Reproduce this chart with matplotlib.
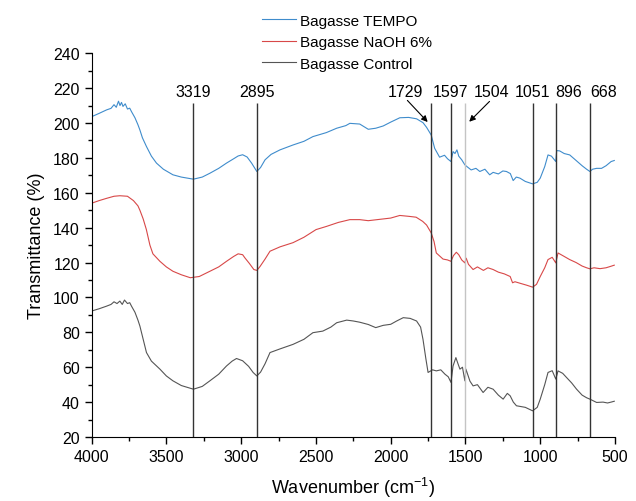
import matplotlib.pyplot as plt
from matplotlib.ticker import MultipleLocator

plt.rcParams['font.family'] = ['Liberation Sans', 'DejaVu Sans']
plt.rcParams['mathtext.default'] = 'regular'

# Spectra (wavenumber, transmittance)
tempo_x = [4000, 3950, 3900, 3870, 3850, 3835, 3820, 3810, 3800, 3790, 3775, 3760, 3745, 3733,
           3710, 3690, 3677, 3660, 3633, 3600, 3566, 3520, 3456, 3400, 3319, 3260, 3209,
           3150, 3098, 3050, 3020, 2990, 2960, 2930, 2895, 2870, 2840, 2800, 2740, 2653,
           2580, 2520, 2430, 2361, 2300, 2273, 2207, 2150, 2100, 2050, 2000, 1939, 1880,
           1827, 1784, 1760, 1729, 1706, 1673, 1640, 1620, 1597, 1583, 1570, 1557, 1545,
           1525, 1504, 1490, 1462, 1430, 1404, 1370, 1338, 1315, 1280, 1250, 1226, 1200,
           1181, 1160, 1136, 1100, 1051, 1020, 1000, 970, 948, 925, 896, 890, 870, 840,
           803, 760, 720, 690, 668, 650, 623, 590, 560, 526, 505]
tempo_y = [203.6, 205.5, 207.5, 208.4, 210.5, 209.0, 212.5, 210.0, 211.8, 209.5, 211.0, 208.0, 208.5, 206.5,
           203.0, 199.0, 196.0, 191.5, 186.5, 181.0, 177.0, 173.5, 170.3, 169.0, 167.8, 169.0, 171.2,
           174.0, 177.0, 179.5, 181.1, 181.8, 180.5, 177.0, 172.2, 174.5, 178.9, 182.0, 184.6, 187.4,
           189.5, 192.2, 194.5, 197.0, 198.5, 199.8, 199.4, 196.4, 197.0, 198.3, 200.5, 203.0, 203.2,
           202.4, 200.2, 197.5, 193.1, 185.5, 180.4, 181.5, 179.5, 177.9, 183.6, 182.5, 184.6, 181.0,
           178.9, 176.0, 175.0, 173.1, 174.0, 172.2, 173.5, 170.3, 171.7, 170.8, 172.5, 172.2, 171.0,
           167.0, 169.0, 168.4, 166.5, 165.1, 166.0, 168.4, 175.0, 181.7, 181.0, 177.9, 184.2, 184.0, 182.5,
           181.7, 178.5, 175.5, 173.5, 172.2, 173.5, 174.0, 174.0, 175.5, 177.9, 178.5]

naoh_x = [4000, 3950, 3900, 3850, 3811, 3760, 3720, 3690, 3677, 3655, 3634, 3610, 3590,
          3543, 3500, 3456, 3400, 3340, 3280, 3209, 3150, 3098, 3050, 3020, 2990, 2975,
          2945, 2915, 2895, 2874, 2840, 2807, 2740, 2653, 2580, 2499, 2430, 2350, 2273,
          2207, 2150, 2100, 2050, 2000, 1939, 1880, 1830, 1786, 1760, 1729, 1710, 1695,
          1650, 1620, 1597, 1580, 1561, 1545, 1525, 1504, 1495, 1480, 1449, 1420, 1380,
          1350, 1315, 1280, 1240, 1201, 1185, 1169, 1130, 1090, 1051, 1025, 1000, 970,
          948, 920, 896, 881, 850, 803, 760, 720, 690, 668, 640, 600, 560, 526, 505]
naoh_y = [154.0, 155.5, 156.8, 158.0, 158.3, 158.0, 155.5, 152.5, 150.0, 145.0, 139.0, 130.0, 125.0,
          120.7, 117.5, 115.0, 113.0, 111.3, 112.0, 115.0, 117.5, 120.7, 123.5, 125.0, 124.5, 122.7,
          119.5, 116.0, 115.5, 117.7, 122.0, 126.5, 129.0, 131.4, 134.5, 138.9, 140.7, 143.0, 144.6,
          144.6, 144.0, 144.5, 145.0, 145.5, 147.0, 146.5, 146.0, 143.6, 141.5, 137.0, 132.0, 125.5,
          122.0, 121.5, 120.7, 124.0, 125.9, 124.5, 121.5, 119.8, 122.5, 119.0, 116.0, 117.5, 115.5,
          117.0, 116.0, 114.5, 113.5, 112.0, 108.4, 109.0, 108.0, 107.0, 105.9, 107.5, 112.0, 117.0,
          121.7, 123.0, 119.8, 125.5, 124.0, 121.7, 120.0, 118.0, 117.0, 116.4, 117.0, 116.5, 117.0,
          117.9, 118.5]

ctrl_x = [4000, 3950, 3900, 3870, 3850, 3830, 3811, 3795, 3780, 3760, 3745, 3733, 3710,
          3690, 3677, 3655, 3633, 3600, 3543, 3500, 3456, 3400, 3319, 3260, 3209, 3150,
          3098, 3060, 3031, 2990, 2950, 2920, 2895, 2870, 2840, 2807, 2740, 2653, 2580,
          2520, 2454, 2400, 2361, 2294, 2250, 2207, 2150, 2100, 2050, 2000, 1960, 1916,
          1870, 1827, 1800, 1784, 1765, 1750, 1720, 1695, 1665, 1637, 1615, 1597, 1583,
          1564, 1550, 1537, 1520, 1504, 1497, 1470, 1449, 1420, 1382, 1350, 1315, 1280,
          1248, 1220, 1201, 1180, 1159, 1100, 1051, 1020, 1000, 970, 948, 920, 896, 881,
          850, 824, 790, 757, 720, 690, 668, 623, 580, 550, 526, 505]
ctrl_y = [92.2, 93.5, 95.0, 96.0, 97.5, 96.5, 97.9, 96.0, 98.5, 96.5, 97.0, 95.0, 91.5,
          87.0, 83.6, 76.0, 68.4, 63.5, 58.9, 55.0, 52.2, 49.5, 47.4, 49.0, 52.2, 56.0,
          60.7, 63.5, 65.0, 63.7, 60.5, 57.0, 55.0, 57.2, 62.0, 68.4, 70.5, 73.1, 76.0,
          79.8, 80.7, 83.0, 85.5, 87.0, 86.5, 85.8, 84.5, 82.7, 84.0, 84.6, 86.5, 88.4,
          88.0, 86.5, 83.0, 76.0, 65.0, 57.0, 58.5, 57.9, 58.5, 56.0, 54.5, 51.3, 60.7,
          65.5, 62.0, 58.9, 60.0, 52.2, 58.9, 52.0, 49.3, 50.0, 45.5, 48.5, 47.4, 44.0,
          41.7, 45.0, 43.6, 40.0, 37.9, 37.0, 35.0, 37.0, 41.7, 50.0, 57.0, 58.0, 53.2, 57.9,
          56.5, 54.1, 51.0, 47.4, 44.0, 42.5, 41.7, 39.8, 40.0, 39.5, 40.0, 40.5]

peaks = [3319, 2895, 1729, 1597, 1504, 1051, 896, 668]
peak_labels = ['3319', '2895', '1729', '1597', '1504', '1051', '896', '668']
label_pos = [3319, 2895, 1901, 1597, 1326, 1051, 811, 579]
line_colors = ['#333333'] * 4 + ['#c4c4c4'] + ['#333333'] * 3

fig = plt.figure(figsize=(6.36, 5.02), dpi=100)
ax = fig.add_axes([0.144, 0.1275, 0.823, 0.7645])

ax.plot(tempo_x, tempo_y, color='#3f8ccc', lw=0.8, label='Bagasse TEMPO')
ax.plot(naoh_x, naoh_y, color='#d84848', lw=0.8, label='Bagasse NaOH 6%')
ax.plot(ctrl_x, ctrl_y, color='#555555', lw=0.8, label='Bagasse Control')

ax.vlines(peaks, 20, 211.6, colors=line_colors, lw=1.0)
for lab, xp in zip(peak_labels, label_pos):
    ax.text(xp, 218, lab, ha='center', va='center', fontsize=11.5)

ax.annotate('', xy=(1740, 199.4), xytext=(1901, 214.1),
            arrowprops=dict(arrowstyle='-|>', color='black', lw=0.8, mutation_scale=9))
ax.annotate('', xy=(1488, 199.6), xytext=(1326, 213.5),
            arrowprops=dict(arrowstyle='-|>', color='black', lw=0.8, mutation_scale=9))

ax.set_xlim(4000, 500)
ax.set_ylim(20, 240)
ax.xaxis.set_major_locator(MultipleLocator(500))
ax.xaxis.set_minor_locator(MultipleLocator(250))
ax.yaxis.set_major_locator(MultipleLocator(20))
ax.yaxis.set_minor_locator(MultipleLocator(10))
ax.tick_params(which='major', direction='out', length=5, width=1, labelsize=11.5)
ax.tick_params(which='minor', direction='out', length=3, width=1)
ax.spines['top'].set_visible(False)
ax.spines['right'].set_visible(False)

ax.set_xlabel('Wavenumber (cm$^{-1}$)', fontsize=13, labelpad=8)
ax.set_ylabel('Transmittance (%)', fontsize=13, labelpad=6)

fig.legend(loc='upper left', bbox_to_anchor=(0.412, 0.971), frameon=False,
           fontsize=11, handlelength=2.2, handletextpad=0.3, borderpad=0,
           borderaxespad=0, labelspacing=0.5)

plt.savefig('out.png', dpi=100)
